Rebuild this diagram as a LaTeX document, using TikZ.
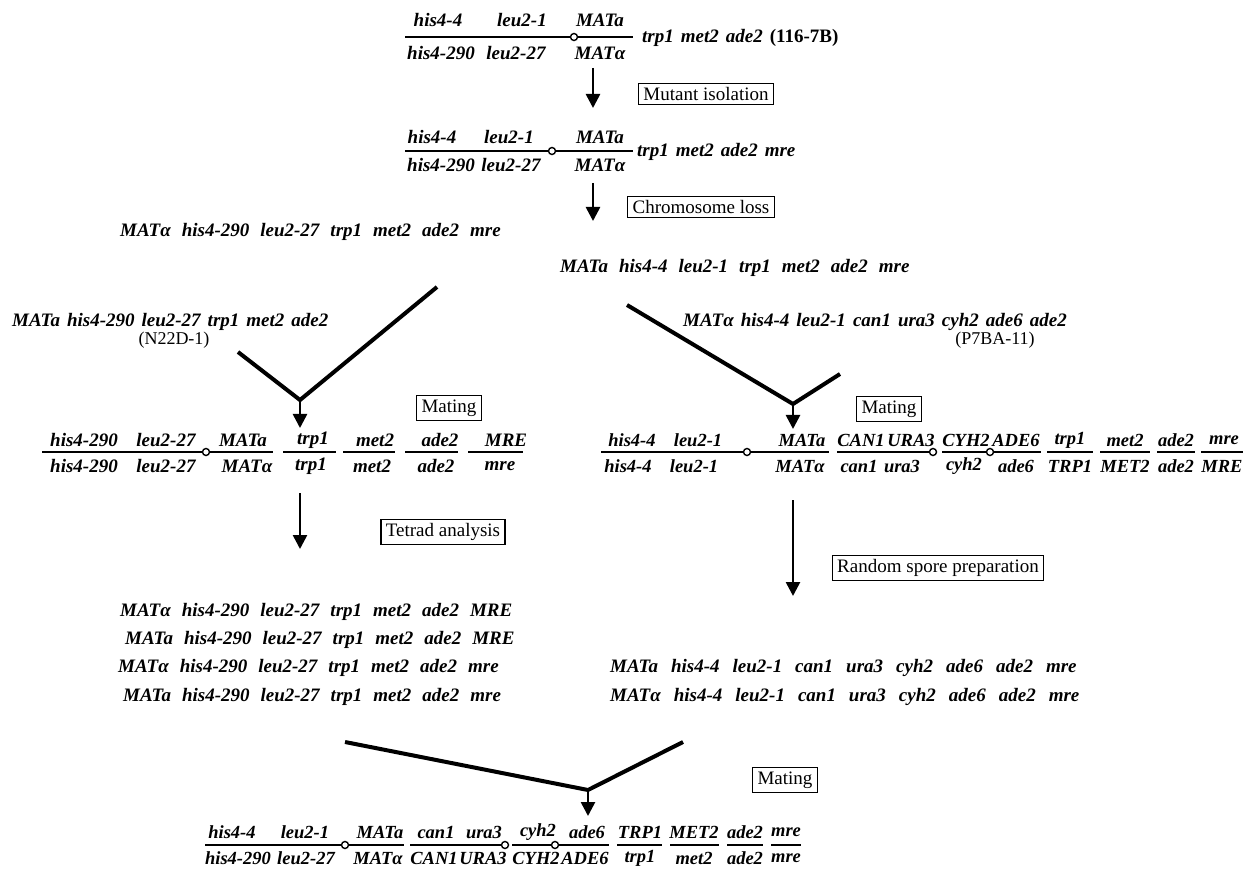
\documentclass[tikz,border=0pt]{standalone}
\usepackage{fontspec}
\setmainfont{Liberation Serif}
\usetikzlibrary{arrows.meta}
\newcommand{\gn}[1]{\textbf{\textit{#1}}}
\newcommand{\MATa}{\gn{MAT}\textbf{a}}
\newcommand{\MATal}{\gn{MATα}}

\begin{document}
\begin{tikzpicture}[
  x=1pt, y=-1pt,
  gene/.style={inner sep=0pt, font=\fontsize{19}{21}\selectfont\bfseries\itshape},
  small/.style={font=\fontsize{18.5}{20}\selectfont\bfseries\itshape},
  geno/.style={gene, anchor=west, execute at begin node={\spaceskip=11pt plus 2pt\relax}},
  tight/.style={execute at begin node={\spaceskip=7pt plus 1pt\relax}},
  wide/.style={execute at begin node={\spaceskip=13pt plus 2pt\relax}},
  strain/.style={inner sep=0pt, font=\fontsize{18}{20}\selectfont},
  stepbox/.style={draw, line width=1.3pt, inner xsep=5pt, inner ysep=4pt,
                  font=\fontsize{19}{21}\selectfont},
  chrom/.style={line width=1.5pt},
  cen/.style={circle, draw, line width=1.4pt, fill=white, inner sep=0pt, minimum size=7pt},
  flow/.style={line width=2.6pt, -{Triangle[width=14pt,length=14pt]}},
  vline/.style={line width=4pt}
]
  \fill[white] (0,0) rectangle (1248,874);
  \useasboundingbox (0,0) rectangle (1248,874);

  % 116-7B
  \foreach \x/\g [count=\i] in {438/his4-4, 522/leu2-1, 600/\MATa}
    \node[gene] (pa\i) at (\x,20) {\g};
  \foreach \x/\g [count=\i] in {441/his4-290, 516/leu2-27, 600/\MATal}
    \node[gene] (pb\i) at (\x,53) {\g};
  \draw[chrom] (405,37) -- (633,37);
  \node[cen] (pcen) at (574,37) {};
  \node[geno, tight] (prest) at (642,38) {trp1 met2 ade2 \upshape(116-7B)};

  \coordinate (a1) at (593,68);
  \coordinate (a1e) at (593,108);
  \draw[flow] (a1) -- (a1e);
  \node[stepbox] (mutant) at (706,94) {Mutant isolation};

  % mutant diploid
  \foreach \x/\g [count=\i] in {432/his4-4, 509/leu2-1, 600/\MATa}
    \node[gene] (ma\i) at (\x,137) {\g};
  \foreach \x/\g [count=\i] in {441/his4-290, 511/leu2-27, 600/\MATal}
    \node[gene] (mb\i) at (\x,165) {\g};
  \draw[chrom] (405,151) -- (633,151);
  \node[cen] (mcen) at (552,151) {};
  \node[geno, tight] (mrest) at (637,152) {trp1 met2 ade2 mre};

  \coordinate (a2) at (593,183);
  \coordinate (a2e) at (593,221);
  \draw[flow] (a2) -- (a2e);
  \node[stepbox] (loss) at (701,207) {Chromosome loss};

  % haploid segregants
  \node[geno] (hal) at (120,232) {\MATal\ his4-290 leu2-27 trp1 met2 ade2 mre};
  \node[geno] (hA) at (560,268) {\MATa\ his4-4 leu2-1 trp1 met2 ade2 mre};

  % tester strains
  \node[geno, tight] (n22) at (12,322) {\MATa\ his4-290 leu2-27 trp1 met2 ade2};
  \node[strain] (n22id) at (174,340) {(N22D-1)};
  \node[geno, tight] (p7) at (683,322) {\MATal\ his4-4 leu2-1 can1 ura3 cyh2 ade6 ade2};
  \node[strain] (p7id) at (995,340) {(P7BA-11)};

  % left mating
  \coordinate (lv1) at (437,287);
  \coordinate (lv2) at (238,352);
  \coordinate (lv) at (300,400);
  \coordinate (lve) at (300,428);
  \draw[vline] (lv1) -- (lv) -- (lv2);
  \draw[flow] (lv) -- (lve);
  \node[stepbox] (mateL) at (449,408) {Mating};

  % right mating
  \coordinate (rv1) at (627,305);
  \coordinate (rv2) at (840,374);
  \coordinate (rv) at (793,404);
  \coordinate (rve) at (793,429);
  \draw[vline] (rv1) -- (rv) -- (rv2);
  \draw[flow] (rv) -- (rve);
  \node[stepbox] (mateR) at (889,409) {Mating};

  % left diploid
  \foreach \x/\g [count=\i] in {84/his4-290, 166/leu2-27, 243/\MATa, 313/trp1,
                                375/met2, 440/ade2, 506/MRE}
    \node[gene] (la\i) at (\x,440) {\g};
  \foreach \x/\g [count=\i] in {84/his4-290, 166/leu2-27, 247/\MATal, 311/trp1,
                                372/met2, 436/ade2, 500/mre}
    \node[gene] (lb\i) at (\x,466) {\g};
  \foreach \a/\b in {42/273, 283/336, 343/395, 405/458, 468/523}
    \draw[chrom] (\a,452) -- (\b,452);
  \node[cen] (lcen) at (206,452) {};

  % right diploid
  \foreach \x/\g [count=\i] in {632/his4-4, 698/leu2-1, 802/\MATa, 861/CAN1,
                                911/URA3, 966/CYH2, 1016/ADE6, 1070/trp1,
                                1125/met2, 1176/ade2, 1224/mre}
    \node[gene, small] (ra\i) at (\x,440) {\g};
  \foreach \x/\g [count=\i] in {628/his4-4, 694/leu2-1, 800/\MATal, 859/can1,
                                902/ura3, 964/cyh2, 1016/ade6, 1070/TRP1,
                                1125/MET2, 1176/ade2, 1222/MRE}
    \node[gene, small] (rb\i) at (\x,466) {\g};
  \foreach \a/\b in {601/829, 837/935, 942/1041, 1047/1093, 1100/1150,
                     1157/1195, 1201/1243}
    \draw[chrom] (\a,452) -- (\b,452);
  \foreach \x [count=\i] in {747, 933, 990}
    \node[cen] (rcen\i) at (\x,452) {};

  % tetrads
  \coordinate (tl) at (300,493);
  \coordinate (tle) at (300,549);
  \draw[flow] (tl) -- (tle);
  \node[stepbox] (tetrad) at (443,532) {Tetrad analysis};
  \node[geno] (t1) at (120,612) {\MATal\ his4-290 leu2-27 trp1 met2 ade2 MRE};
  \node[geno] (t2) at (125,640) {\MATa\ his4-290 leu2-27 trp1 met2 ade2 MRE};
  \node[geno] (t3) at (118,668) {\MATal\ his4-290 leu2-27 trp1 met2 ade2 mre};
  \node[geno] (t4) at (123,697) {\MATa\ his4-290 leu2-27 trp1 met2 ade2 mre};

  % random spores
  \coordinate (sr) at (793,500);
  \coordinate (sre) at (793,596);
  \draw[flow] (sr) -- (sre);
  \node[stepbox] (spore) at (938,568) {Random spore preparation};
  \node[geno, wide] (s1) at (610,668) {\MATa\ his4-4 leu2-1 can1 ura3 cyh2 ade6 ade2 mre};
  \node[geno, wide] (s2) at (610,697) {\MATal\ his4-4 leu2-1 can1 ura3 cyh2 ade6 ade2 mre};

  % final mating
  \coordinate (bv1) at (345,742);
  \coordinate (bv2) at (683,742);
  \coordinate (bv) at (588,790);
  \coordinate (bve) at (588,816);
  \draw[vline] (bv1) -- (bv) -- (bv2);
  \draw[flow] (bv) -- (bve);
  \node[stepbox] (mateB) at (785,780) {Mating};

  \foreach \x/\g [count=\i] in {232/his4-4, 305/leu2-1, 380/\MATa, 436/can1,
                                484/ura3, 538/cyh2, 587/ade6, 640/TRP1,
                                694/MET2, 745/ade2, 786/mre}
    \node[gene, small] (ba\i) at (\x,832) {\g};
  \foreach \x/\g [count=\i] in {238/his4-290, 306/leu2-27, 378/\MATal, 434/CAN1,
                                483/URA3, 536/CYH2, 585/ADE6, 640/trp1,
                                694/met2, 745/ade2, 786/mre}
    \node[gene, small] (bb\i) at (\x,858) {\g};
  \foreach \a/\b in {205/404, 410/507, 512/609, 617/662, 670/719, 727/763, 771/801}
    \draw[chrom] (\a,845) -- (\b,845);
  \foreach \x [count=\i] in {345, 505, 555}
    \node[cen] (bcen\i) at (\x,845) {};
\end{tikzpicture}
\end{document}
